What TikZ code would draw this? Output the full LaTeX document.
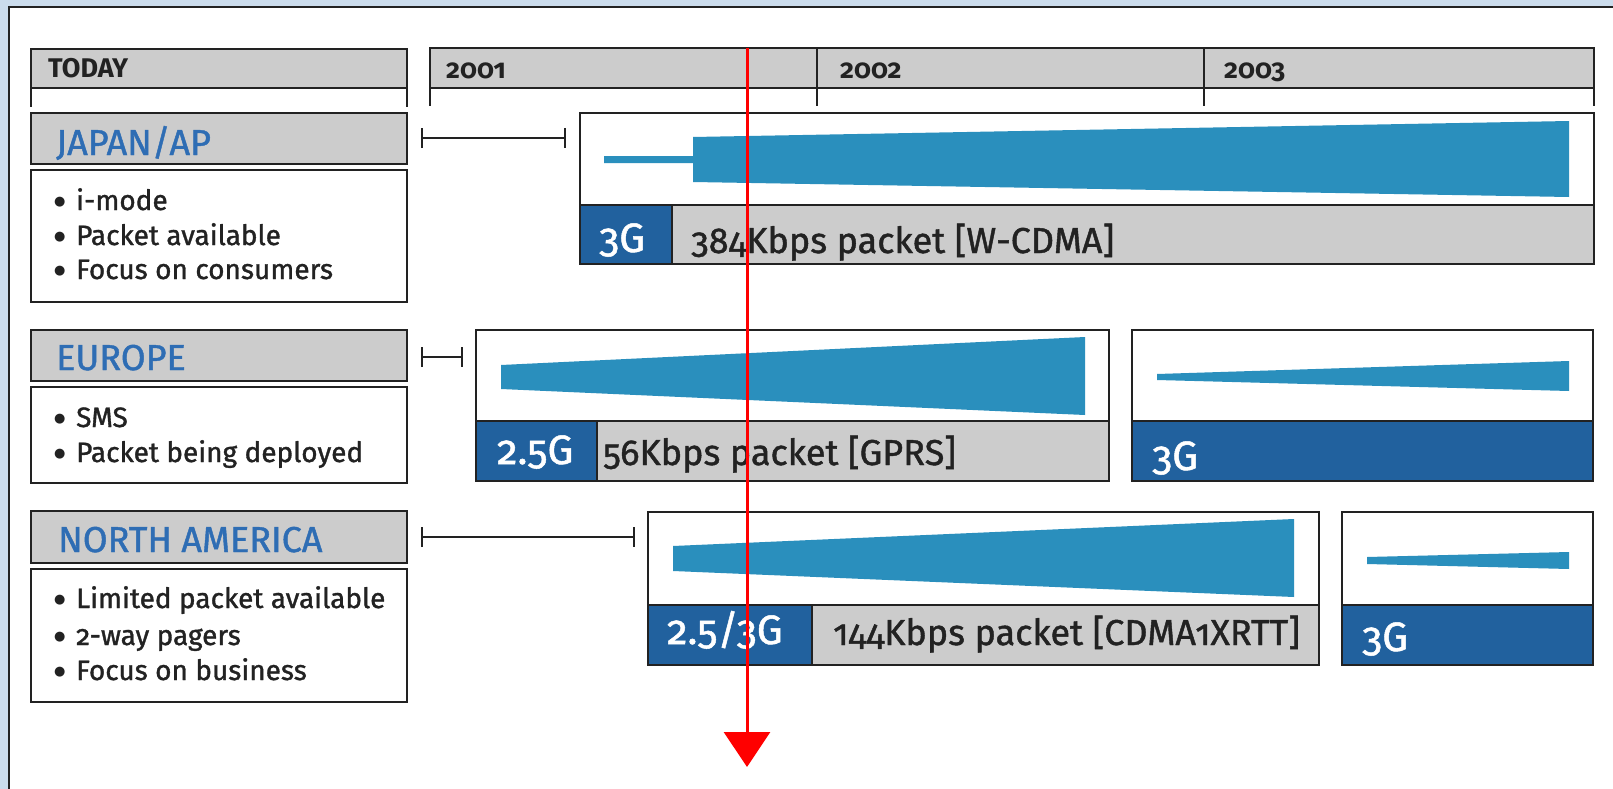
\documentclass[tikz,border=0pt]{standalone}
\usepackage{fontspec}
\setmainfont{Fira Sans}[Numbers=OldStyle]
\newfontfamily\medium{Fira Sans}[Numbers=OldStyle, FakeBold=1.2]
\newfontfamily\dejavu{DejaVu Sans}
\usetikzlibrary{arrows.meta}
\definecolor{chartgray}{HTML}{CCCCCC}
\definecolor{darkblue}{HTML}{21619E}
\definecolor{wedgeblue}{HTML}{2A8FBD}
\definecolor{labelblue}{HTML}{2E6DB4}
\definecolor{framebg}{HTML}{CBDCEC}
\definecolor{ink}{HTML}{222222}
\newcommand{\itm}[1]{\makebox[22pt][l]{\raisebox{4.5pt}{\dejavu\fontsize{13}{13}\selectfont ●}}#1}
\tikzset{
  box/.style={draw=ink, line width=2pt},
  graybox/.style={box, fill=chartgray},
  bluebox/.style={box, fill=darkblue},
  hdr/.style={anchor=base west, inner sep=0pt, text=ink, font=\fontsize{27}{27}\selectfont\bfseries},
  region/.style={anchor=base west, inner sep=0pt, text=labelblue, font=\medium\fontsize{36}{36}\selectfont},
  item/.style={anchor=base west, inner sep=0pt, text=ink, font=\medium\fontsize{28}{28}\selectfont},
  gen/.style={anchor=base west, inner sep=0pt, text=white, font=\medium\fontsize{41}{41}\selectfont},
  rate/.style={anchor=base west, inner sep=0pt, text=ink, font=\medium\fontsize{36}{36}\selectfont},
  span/.style={draw=ink, line width=2pt, {Bar[width=20pt]}-{Bar[width=20pt]}}
}
\begin{document}
\begin{tikzpicture}[x=1pt, y=-1pt]
    \useasboundingbox (0,0) rectangle (1613,789);
    % frame
    \fill[framebg] (0,0) rectangle (1613,6);
    \fill[framebg] (0,0) rectangle (8,789);
    \draw[ink, line width=2pt] (9,789) -- (9,7) -- (1613,7);

    % time scale
    \draw[graybox] (31,49) rectangle (407,88);
    \draw[ink, line width=2pt] (31,88) -- (31,107) (407,88) -- (407,107);
    \node[hdr] (today) at (48,78) {TODAY};
    \draw[graybox] (430,48) rectangle (1594,88);
    \draw[ink, line width=2pt] (430,88) -- (430,106) (1594,88) -- (1594,106)
        (817,48) -- (817,106) (1204,48) -- (1204,106);
    \node[hdr] (y2001) at (446,79) {2001};
    \node[hdr] (y2002) at (840,79) {2002};
    \node[hdr] (y2003) at (1224,79) {2003};

    % Japan / AP
    \draw[graybox] (31,113) rectangle (407,164);
    \node[region] (japan) at (56,155) {JAPAN/AP};
    \draw[box, fill=white] (31,170) rectangle (407,302);
    \node[item] (jp1) at (54,210) {\itm{i-mode}};
    \node[item] (jp2) at (54,245) {\itm{Packet available}};
    \node[item] (jp3) at (54,279) {\itm{Focus on consumers}};
    \coordinate (jpa) at (421,138);
    \coordinate (jpb) at (566,138);
    \draw[span] (jpa) -- (jpb);
    \draw[box, fill=white] (580,113) rectangle (1594,205);
    \draw[graybox] (580,205) rectangle (1594,264);
    \draw[bluebox] (580,205) rectangle (672,264);
    \fill[wedgeblue] (604,156) -- (693,156) -- (693,137) -- (1569,121)
        -- (1569,197) -- (693,182) -- (693,163) -- (604,163) -- cycle;
    \node[gen] (jpgen) at (599,252) {3G};
    \node[rate] (jprate) at (691,253) {384Kbps packet [W-CDMA]};

    % Europe
    \draw[graybox] (31,330) rectangle (407,381);
    \node[region] (europe) at (56,370) {EUROPE};
    \draw[box, fill=white] (31,387) rectangle (407,483);
    \node[item] (eu1) at (54,427) {\itm{SMS}};
    \node[item] (eu2) at (54,462) {\itm{Packet being deployed}};
    \coordinate (eua) at (421,357);
    \coordinate (eub) at (463,357);
    \draw[span] (eua) -- (eub);
    \draw[box, fill=white] (476,330) rectangle (1109,421);
    \draw[graybox] (476,421) rectangle (1109,481);
    \draw[bluebox] (476,421) rectangle (597,481);
    \fill[wedgeblue] (501,365) -- (1085,337) -- (1085,415) -- (501,389) -- cycle;
    \node[gen] (eugen) at (497,464) {2.5G};
    \node[rate] (eurate) at (603,465) {56Kbps packet [GPRS]};
    \draw[box, fill=white] (1132,330) rectangle (1593,421);
    \draw[bluebox] (1132,421) rectangle (1593,481);
    \fill[wedgeblue] (1157,374) -- (1569,361) -- (1569,391) -- (1157,380) -- cycle;
    \node[gen] (eunext) at (1152,470) {3G};

    % North America
    \draw[graybox] (31,511) rectangle (407,563);
    \node[region] (namerica) at (58,552) {NORTH AMERICA};
    \draw[box, fill=white] (31,569) rectangle (407,702);
    \node[item] (na1) at (54,608) {\itm{Limited packet available}};
    \node[item] (na2) at (54,645) {\itm{2-way pagers}};
    \node[item] (na3) at (54,680) {\itm{Focus on business}};
    \coordinate (naa) at (421,537);
    \coordinate (nab) at (635,537);
    \draw[span] (naa) -- (nab);
    \draw[box, fill=white] (648,512) rectangle (1319,605);
    \draw[graybox] (648,605) rectangle (1319,665);
    \draw[bluebox] (648,605) rectangle (812,665);
    \fill[wedgeblue] (673,546) -- (1294,519) -- (1294,597) -- (673,571) -- cycle;
    \node[gen] (nagen) at (667,644) {2.5/3G};
    \node[rate] (narate) at (833,645) {144Kbps packet [CDMA1XRTT]};
    \draw[box, fill=white] (1342,512) rectangle (1593,605);
    \draw[bluebox] (1342,605) rectangle (1593,665);
    \fill[wedgeblue] (1367,557) -- (1569,552) -- (1569,569) -- (1367,564) -- cycle;
    \node[gen] (nanext) at (1362,651) {3G};

    % now marker
    \coordinate (nowtop) at (747,48);
    \coordinate (nowtip) at (747,767);
    \draw[red, line width=3pt, -{Triangle[width=46pt,length=35pt]}] (nowtop) -- (nowtip);
\end{tikzpicture}
\end{document}
